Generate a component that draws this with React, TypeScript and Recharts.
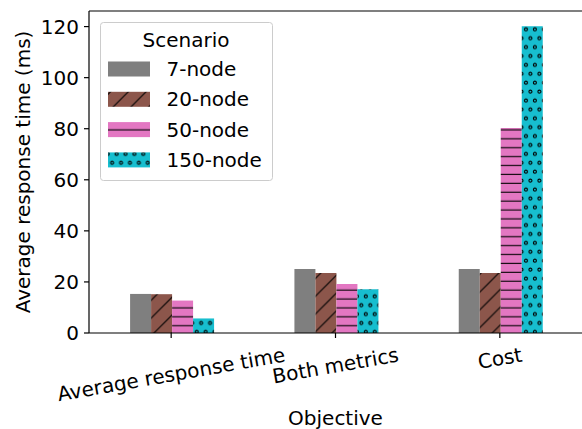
import React from "react";
import { BarChart, Bar, XAxis, YAxis, ReferenceLine } from "recharts";

const categories = ["Average response time", "Both metrics", "Cost"];
const node7 = [15.3, 25.1, 25.1];
const node20 = [15.2, 23.5, 23.5];
const node50 = [12.7, 19.2, 80.3];
const node150 = [5.7, 17.1, 120.1];
const seriesNames = ["7-node", "20-node", "50-node", "150-node"];
const seriesKeys = ["n7", "n20", "n50", "n150"];
const yTicks = [0, 20, 40, 60, 80, 100, 120];
const yMax = 126.1;
const legendTitle = "Scenario";
const xLabel = "Objective";
const yLabel = "Average response time (ms)";

const FONT = "DejaVu Sans, Verdana, sans-serif";
const FS = 20;

const data = categories.map((c, i) => ({
  objective: c,
  n7: node7[i],
  n20: node20[i],
  n50: node50[i],
  n150: node150[i],
}));

const fills = [
  "#7f7f7f",
  "url(#hatchBrown)",
  "url(#hatchPink)",
  "url(#hatchCyan)",
];

let ctx: CanvasRenderingContext2D | null = null;
const measure = (t: string) => {
  if (!ctx) {
    ctx = document.createElement("canvas").getContext("2d");
  }
  if (!ctx) return t.length * FS * 0.6;
  ctx.font = `${FS}px "DejaVu Sans"`;
  return ctx.measureText(t).width;
};

const XTick = (props: any) => {
  const { x, y, payload } = props;
  const label = String(payload.value);
  const w = measure(label);
  const a = (10 * Math.PI) / 180;
  const h = 1.164 * FS;
  const bboxH = w * Math.sin(a) + h * Math.cos(a);
  const cy = y + bboxH / 2;
  return (
    <g transform={`translate(${x},${cy}) rotate(-10)`}>
      <text
        x={0}
        y={0.346 * FS}
        textAnchor="middle"
        fontSize={FS}
        fontFamily={FONT}
        fill="#000"
      >
        {label}
      </text>
    </g>
  );
};

const Defs = () => (
  <defs>
    <pattern id="hatchBrown" patternUnits="userSpaceOnUse" width={17.8} height={17.8}>
      <rect x={0} y={0} width={17.8} height={17.8} fill="#8c564b" />
      <path d="M -1 7.5 L 7.5 -1 M 5.5 18.8 L 18.8 5.5" stroke="#000" strokeWidth={1.1} />
    </pattern>
    <pattern id="hatchPink" patternUnits="userSpaceOnUse" width={8.9} height={8.9}>
      <rect x={0} y={0} width={8.9} height={8.9} fill="#e377c2" />
      <path d="M 0 5.3 H 8.9" stroke="#000" strokeWidth={1.1} />
    </pattern>
    <pattern id="hatchCyan" patternUnits="userSpaceOnUse" width={8.9} height={17.8}>
      <rect x={0} y={0} width={8.9} height={17.8} fill="#17becf" />
      {[
        [0.9, 11.5],
        [9.8, 11.5],
        [5.35, 2.6],
        [5.35, 20.4],
      ].map(([cx, cy], i) => (
        <circle key={i} cx={cx} cy={cy} r={1.5} fill="none" stroke="#000" strokeWidth={1.1} />
      ))}
    </pattern>
  </defs>
);

const LegendBox = () => {
  const left = 100;
  const top = 22;
  const right = 272;
  const bottom = 180;
  const baselines = [76, 106.3, 136.6, 166.9];
  return (
    <g>
      <rect
        x={left + 0.5}
        y={top + 0.5}
        width={right - left}
        height={bottom - top}
        rx={3}
        fill="#fff"
        fillOpacity={0.8}
        stroke="#cccccc"
        strokeWidth={1}
      />
      <text
        x={(left + right) / 2}
        y={46.5}
        textAnchor="middle"
        fontSize={FS}
        fontFamily={FONT}
        fill="#000"
      >
        {legendTitle}
      </text>
      {seriesNames.map((name, i) => (
        <g key={name}>
          <rect x={108} y={baselines[i] - 14.5} width={42} height={15} fill={fills[i]} />
          <text x={166.5} y={baselines[i]} fontSize={FS} fontFamily={FONT} fill="#000">
            {name}
          </text>
        </g>
      ))}
    </g>
  );
};

export default function App() {
  return (
    <div style={{ position: "absolute", left: 0, top: 0, background: "#fff" }}>
      <BarChart
        width={582}
        height={429}
        data={data}
        margin={{ top: 11, right: 0, left: 0, bottom: 0 }}
        barCategoryGap="25%"
        barGap={0}
      >
        <Defs />
        <XAxis
          dataKey="objective"
          height={96}
          interval={0}
          tickSize={5}
          tickMargin={5}
          tick={<XTick />}
          axisLine={{ stroke: "#000", strokeWidth: 1.2 }}
          tickLine={{ stroke: "#000", strokeWidth: 1.2 }}
        />
        <YAxis
          width={89}
          domain={[0, yMax]}
          ticks={yTicks}
          allowDataOverflow
          tickSize={5}
          tickMargin={5}
          tick={{ fill: "#000", fontSize: FS, fontFamily: FONT }}
          axisLine={{ stroke: "#000", strokeWidth: 1.2 }}
          tickLine={{ stroke: "#000", strokeWidth: 1.2 }}
        />
        {seriesKeys.map((k, i) => (
          <Bar key={k} dataKey={k} name={seriesNames[i]} fill={fills[i]} isAnimationActive={false} />
        ))}
        <ReferenceLine y={yMax} stroke="#000" strokeWidth={1.2} />
        <LegendBox />
        <text
          x={335.5}
          y={425}
          textAnchor="middle"
          fontSize={FS}
          fontFamily={FONT}
          fill="#000"
        >
          {xLabel}
        </text>
        <text
          x={30}
          y={172}
          transform="rotate(-90 30 172)"
          textAnchor="middle"
          fontSize={FS}
          fontFamily={FONT}
          fill="#000"
        >
          {yLabel}
        </text>
      </BarChart>
    </div>
  );
}
